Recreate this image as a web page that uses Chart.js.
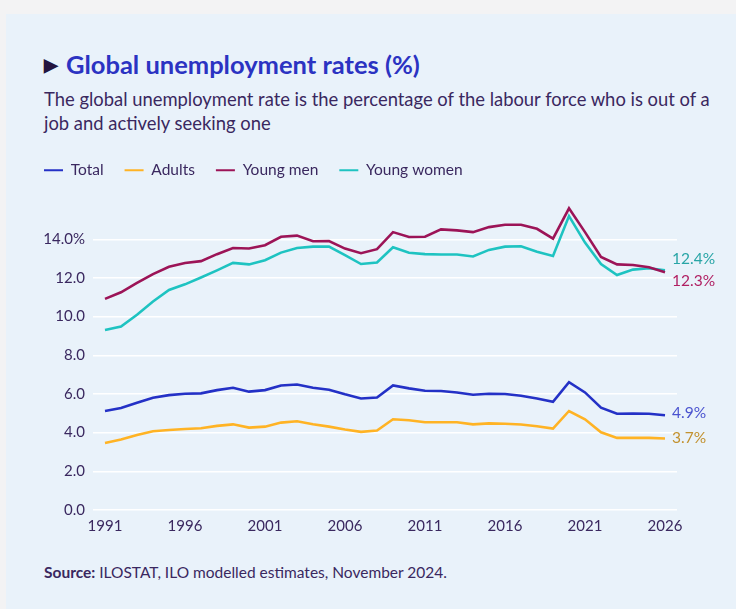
<!DOCTYPE html>
<html>
<head>
<meta charset="utf-8">
<script src="https://cdn.jsdelivr.net/npm/chart.js@4/dist/chart.umd.min.js"></script>
<style>
  html, body { margin: 0; padding: 0; }
  body { width: 736px; height: 609px; background: #f3f3f4; position: relative; overflow: hidden; font-family: "Lato", "Noto Sans", sans-serif; }
  .panel { position: absolute; left: 6px; top: 14px; right: 0; bottom: 0; background: #e9f2fa; }
  .title { position: absolute; left: 44px; top: 48px; font-size: 25.5px; line-height: 32px; font-weight: 700; color: #2b33c2; white-space: nowrap; }
  .title .arrow { color: #24143f; font-size: 18px; margin-right: 8px; position: relative; top: -3px; }
  .subtitle { position: absolute; left: 44px; top: 87px; width: 672px; font-size: 18.4px; line-height: 24px; color: #3a285f; }
  .source { position: absolute; left: 44px; top: 563px; font-size: 15.5px; color: #3a285f; white-space: nowrap; }
  .source b { font-weight: 700; }
  canvas { position: absolute; left: 0; top: 0; }
</style>
</head>
<body>
<div class="panel"></div>
<div class="title"><span class="arrow">&#9654;</span>Global unemployment rates (%)</div>
<div class="subtitle">The global unemployment rate is the percentage of the labour force who is out of a job and actively seeking one</div>
<div class="source"><b>Source:</b> ILOSTAT, ILO modelled estimates, November 2024.</div>
<canvas id="chart" width="736" height="609"></canvas>
<script>
// Global unemployment rates (%), 1991–2026
const years = [1991, 1992, 1993, 1994, 1995, 1996, 1997, 1998, 1999, 2000,
               2001, 2002, 2003, 2004, 2005, 2006, 2007, 2008, 2009, 2010,
               2011, 2012, 2013, 2014, 2015, 2016, 2017, 2018, 2019, 2020,
               2021, 2022, 2023, 2024, 2025, 2026];

const total = [5.12, 5.27, 5.55, 5.81, 5.94, 6.01, 6.03, 6.20, 6.32, 6.12,
               6.20, 6.44, 6.49, 6.32, 6.22, 5.98, 5.77, 5.82, 6.44, 6.29,
               6.17, 6.15, 6.08, 5.96, 6.01, 6.00, 5.91, 5.77, 5.60, 6.61,
               6.08, 5.29, 4.98, 4.99, 4.98, 4.90];

const adults = [3.47, 3.64, 3.88, 4.07, 4.14, 4.19, 4.23, 4.35, 4.43, 4.26,
                4.31, 4.52, 4.59, 4.43, 4.31, 4.16, 4.04, 4.11, 4.69, 4.64,
                4.54, 4.54, 4.54, 4.43, 4.48, 4.46, 4.42, 4.33, 4.21, 5.12,
                4.69, 4.02, 3.73, 3.73, 3.73, 3.70];

const youngMen = [10.92, 11.26, 11.74, 12.20, 12.58, 12.77, 12.87, 13.23, 13.55, 13.52,
                  13.69, 14.13, 14.19, 13.90, 13.91, 13.52, 13.28, 13.49, 14.37, 14.12,
                  14.13, 14.51, 14.46, 14.37, 14.63, 14.75, 14.75, 14.54, 14.03, 15.60,
                  14.37, 13.09, 12.70, 12.67, 12.55, 12.30];

const youngWomen = [9.31, 9.49, 10.10, 10.78, 11.38, 11.67, 12.02, 12.39, 12.78, 12.70,
                    12.92, 13.31, 13.55, 13.62, 13.62, 13.18, 12.72, 12.80, 13.59, 13.30,
                    13.23, 13.21, 13.21, 13.11, 13.45, 13.62, 13.64, 13.35, 13.14, 15.20,
                    13.83, 12.72, 12.15, 12.43, 12.50, 12.40];

const xTicks = [1991, 1996, 2001, 2006, 2011, 2016, 2021, 2026];
const yTicks = [0, 2, 4, 6, 8, 10, 12, 14];

const INK = '#3a285f';
const FONT = '"Lato", "Noto Sans", sans-serif';

const series = [
  { label: 'Total',       values: total,      color: '#2431c6', endColor: '#4a53cf', endShift: -2 },
  { label: 'Adults',      values: adults,     color: '#ffb324', endColor: '#c2912e', endShift: 0 },
  { label: 'Young men',   values: youngMen,   color: '#9c1457', endColor: '#b01f62', endShift: 9 },
  { label: 'Young women', values: youngWomen, color: '#1ec3c1', endColor: '#28a5a6', endShift: -11 }
];

// Final-year value printed to the right of each line
const endLabels = {
  id: 'endLabels',
  afterDatasetsDraw(chart) {
    const { ctx, scales: { x, y } } = chart;
    ctx.save();
    ctx.font = '15.5px ' + FONT;
    ctx.textBaseline = 'middle';
    ctx.textAlign = 'left';
    series.forEach((s) => {
      const i = s.values.length - 1;
      const v = s.values[i];
      ctx.fillStyle = s.endColor;
      ctx.fillText(v.toFixed(1) + '%', x.getPixelForValue(years[i]) + 7, y.getPixelForValue(v) + s.endShift);
    });
    ctx.restore();
  }
};

// Widen the gap between the legend row and the plot
const legendGap = {
  id: 'legendGap',
  beforeLayout(chart) {
    const lg = chart.legend;
    if (lg && !lg._gapAdjusted) {
      const fit = lg.fit;
      lg.fit = function () { fit.call(this); this.height += 12.6; };
      lg._gapAdjusted = true;
    }
  }
};

new Chart(document.getElementById('chart'), {
  type: 'line',
  data: {
    datasets: series.map((s) => ({
      label: s.label,
      data: s.values.map((v, i) => ({ x: years[i], y: v })),
      borderColor: s.color,
      backgroundColor: s.color,
      borderWidth: 2.6,
      pointRadius: 0,
      tension: 0,
      fill: false
    }))
  },
  options: {
    responsive: false,
    animation: false,
    layout: { padding: { left: 23, right: 59, top: 141.5, bottom: 67 } },
    plugins: {
      tooltip: { enabled: false },
      legend: {
        position: 'top',
        align: 'start',
        labels: {
          font: { family: FONT, size: 15.5 },
          color: INK,
          boxWidth: 19,
          boxHeight: 2,
          padding: 21,
          generateLabels(chart) {
            return chart.data.datasets.map((d, i) => ({
              text: d.label,
              fillStyle: d.borderColor,
              strokeStyle: d.borderColor,
              lineWidth: 0,
              fontColor: INK,
              datasetIndex: i,
              hidden: false
            }));
          }
        }
      }
    },
    scales: {
      x: {
        type: 'linear',
        min: 1990.25,
        max: 2026.75,
        afterBuildTicks(scale) { scale.ticks = xTicks.map((v) => ({ value: v })); },
        ticks: {
          color: INK,
          font: { family: FONT, size: 15 },
          padding: 7,
          maxRotation: 0,
          autoSkip: false,
          callback: (v) => String(v)
        },
        grid: { display: false, drawTicks: false },
        border: { display: false }
      },
      y: {
        min: 0,
        max: 16,
        afterBuildTicks(scale) { scale.ticks = yTicks.map((v) => ({ value: v })); },
        afterFit(scale) { scale.width = 70; },
        ticks: {
          color: INK,
          font: { family: FONT, size: 15 },
          padding: 8,
          callback: (v) => v === 14 ? v.toFixed(1) + '%' : v.toFixed(1)
        },
        grid: { color: '#ffffff', lineWidth: 1.5, drawTicks: false },
        border: { display: false }
      }
    }
  },
  plugins: [endLabels, legendGap]
});
</script>
</body>
</html>
